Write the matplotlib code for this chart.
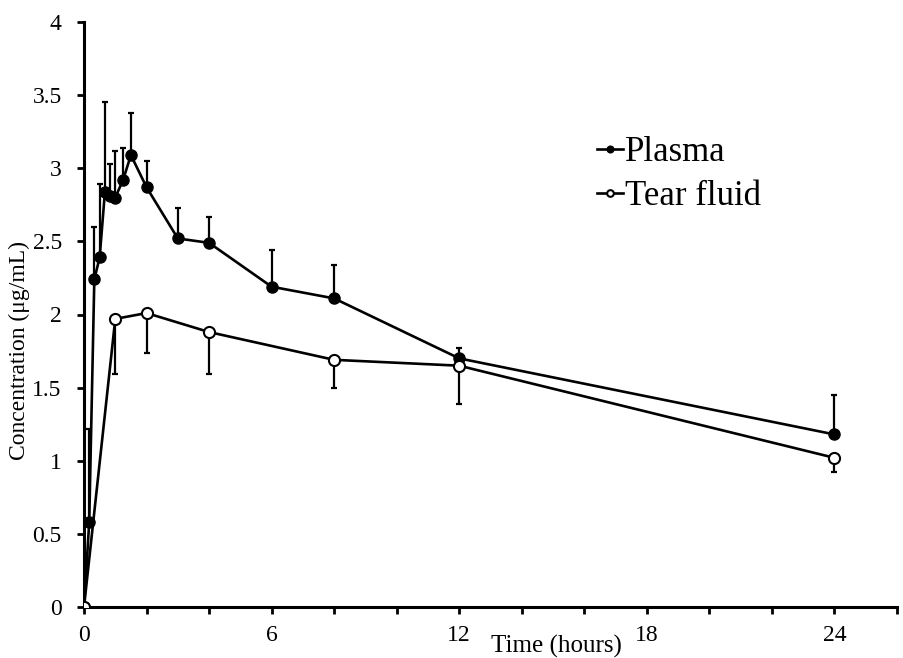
import matplotlib
matplotlib.use("Agg")
import matplotlib.pyplot as plt
from matplotlib.ticker import MultipleLocator

plt.rcParams['font.family'] = ['Liberation Serif', 'DejaVu Serif']

# Sampling times (hours)
plasma_t = [0, 0.167, 0.33, 0.5, 0.67, 0.83, 1, 1.25, 1.5, 2, 3, 4, 6, 8, 12, 24]
plasma_c = [0, 0.58, 2.24, 2.39, 2.84, 2.81, 2.80, 2.92, 3.09, 2.87, 2.52, 2.49, 2.19, 2.11, 1.70, 1.18]
plasma_sd = [0, 0.64, 0.36, 0.50, 0.61, 0.22, 0.32, 0.22, 0.29, 0.18, 0.21, 0.18, 0.25, 0.23, 0.07, 0.27]

tear_t = [0, 1, 2, 4, 8, 12, 24]
tear_c = [0, 1.97, 2.01, 1.88, 1.69, 1.65, 1.02]
tear_sd = [0, 0.38, 0.27, 0.29, 0.19, 0.26, 0.10]

yticks = [0, 0.5, 1, 1.5, 2, 2.5, 3, 3.5, 4]
ylabels = ['0', '0.5', '1', '1.5', '2', '2.5', '3', '3.5', '4']
xticks = [0, 6, 12, 18, 24]

fig = plt.figure(figsize=(9.04, 6.58), dpi=100)
ax = fig.add_axes([84 / 904, 51 / 658, 813 / 904, 585 / 658])

zeros_p = [0] * len(plasma_sd)
zeros_t = [0] * len(tear_sd)

ax.errorbar(plasma_t, plasma_c, yerr=[zeros_p, plasma_sd], fmt='none',
            ecolor='black', elinewidth=1.6, capsize=2.5, capthick=1.6, zorder=2)
ax.plot(plasma_t, plasma_c, '-o', color='black', lw=1.9, ms=8,
        mfc='black', mec='black', label='Plasma', zorder=3)

ax.errorbar(tear_t, tear_c, yerr=[tear_sd, zeros_t], fmt='none',
            ecolor='black', elinewidth=1.6, capsize=2.5, capthick=1.6, zorder=4)
ax.plot(tear_t, tear_c, '-o', color='black', lw=1.9, ms=8,
        mfc='white', mec='black', mew=1.5, label='Tear fluid', zorder=5)

ax.set_xlim(0, 26)
ax.set_ylim(0, 4)
ax.set_xticks(xticks)
ax.xaxis.set_minor_locator(MultipleLocator(2))
ax.set_yticks(yticks, labels=ylabels)

for side in ('top', 'right'):
    ax.spines[side].set_visible(False)
for side in ('left', 'bottom'):
    ax.spines[side].set_linewidth(2.2)
ax.tick_params(which='both', direction='out', length=5, width=2, labelsize=17)
ax.tick_params(axis='x', pad=8)
ax.tick_params(axis='y', pad=11)

ax.set_xlabel('Time (hours)', fontsize=18)
ax.xaxis.set_label_coords((556 - 84) / 813, -0.067)
ax.xaxis.label.set_va('center')
ax.set_ylabel('Concentration (\u03bcg/mL)', fontsize=17)
ax.yaxis.set_label_coords((19 - 84) / 813, (607 - 350) / 585)
ax.yaxis.label.set_va('center')

ax.legend(loc='upper left', bbox_to_anchor=(580 / 904, 1 - 119 / 658),
          bbox_transform=fig.transFigure, frameon=False, fontsize=25,
          handlelength=0.75, handletextpad=0.05, markerscale=0.6,
          labelspacing=0.3, borderpad=0)

fig.savefig('out.png', dpi=100)
